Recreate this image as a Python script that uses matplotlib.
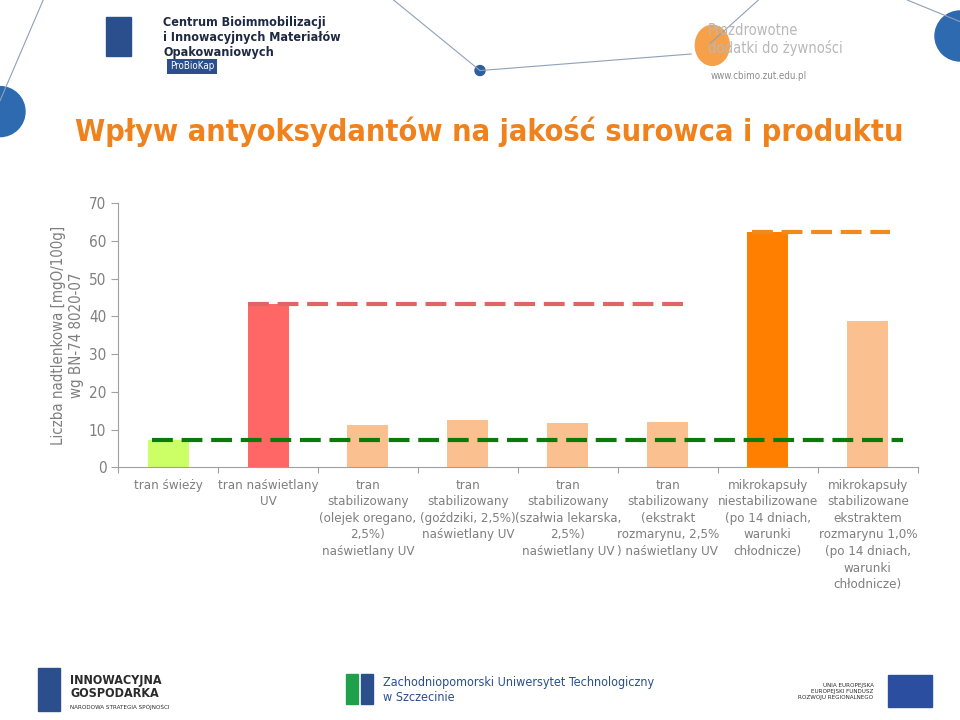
import matplotlib
matplotlib.use("Agg")
import matplotlib.pyplot as plt
from matplotlib.patches import Ellipse, Rectangle

plt.rcParams['font.family'] = ['DejaVu Sans']
plt.rcParams['font.stretch'] = 'condensed'

# data
categories = [
    "tran świeży",
    "tran naświetlany\nUV",
    "tran\nstabilizowany\n(olejek oregano,\n2,5%)\nnaświetlany UV",
    "tran\nstabilizowany\n(goździki, 2,5%)\nnaświetlany UV",
    "tran\nstabilizowany\n(szałwia lekarska,\n2,5%)\nnaświetlany UV",
    "tran\nstabilizowany\n(ekstrakt\nrozmarynu, 2,5%\n) naświetlany UV",
    "mikrokapsuły\nniestabilizowane\n(po 14 dniach,\nwarunki\nchłodnicze)",
    "mikrokapsuły\nstabilizowane\nekstraktem\nrozmarynu 1,0%\n(po 14 dniach,\nwarunki\nchłodnicze)",
]
values = [7.2, 43.2, 11.1, 12.5, 11.7, 11.9, 62.3, 38.7]
bar_colors = ["#CCFF66", "#FF6666", "#FAC090", "#FAC090", "#FAC090", "#FAC090",
              "#FF8000", "#FAC090"]

# reference levels: (value, x start, x end, colour)
ref_levels = [
    (7.2, -0.16, 7.35, "#0A7A0A"),
    (43.2, 0.8, 5.15, "#E06666"),
    (62.3, 5.84, 7.22, "#F08A1E"),
]

fig = plt.figure(figsize=(9.6, 7.2), dpi=100)
ax = fig.add_axes([0.123, 0.351, 0.833, 0.367])

x = list(range(len(categories)))
ax.bar(x, values, width=0.41, color=bar_colors, zorder=2)

for val, x0, x1, col in ref_levels:
    ax.plot([x0, x1], [val, val], color=col, lw=3, dashes=(5, 2.1), zorder=3)

ax.set_xlim(-0.5, len(categories) - 0.5)
ax.set_ylim(0, 70)
ax.set_yticks(range(0, 71, 10))
ax.tick_params(axis='y', colors='#A0A0A0', labelcolor='#7F7F7F', labelsize=11, length=5)
ax.set_xticks([i - 0.5 for i in range(len(categories) + 1)])
ax.set_xticklabels([])
ax.tick_params(axis='x', colors='#A0A0A0', length=4)
for i, lab in enumerate(categories):
    ax.text(i, -3.0, lab, ha='center', va='top', fontsize=9.5, color='#7F7F7F',
            linespacing=1.36)

for s in ['top', 'right']:
    ax.spines[s].set_visible(False)
for s in ['left', 'bottom']:
    ax.spines[s].set_color('#A0A0A0')

ax.set_ylabel("Liczba nadtlenkowa [mgO/100g]\nwg BN-74 8020-07", fontsize=10.8,
              color='#7F7F7F', linespacing=1.25)
ax.yaxis.set_label_coords(-0.043, 0.5)

# title
fig.text(0.51, 0.818, "Wpływ antyoksydantów na jakość surowca i produktu",
         ha='center', va='center', fontsize=22, fontweight='bold', color='#F0821E')

# decorative header lines and spheres
fig.add_artist(plt.Line2D([0.045, 0.0], [1.0, 0.86], color='#8FA0B8', lw=0.8))
fig.add_artist(plt.Line2D([0.41, 0.50], [1.0, 0.902], color='#8FA0B8', lw=0.8))
fig.add_artist(plt.Line2D([0.50, 0.72], [0.902, 0.925], color='#8FA0B8', lw=0.8))
fig.add_artist(plt.Line2D([0.79, 0.74], [1.0, 0.94], color='#8FA0B8', lw=0.8))
fig.add_artist(plt.Line2D([0.945, 1.0], [1.0, 0.97], color='#8FA0B8', lw=0.8))
fig.add_artist(Ellipse((0.50, 0.902), 10 / 960, 10 / 720, transform=fig.transFigure,
                       color='#2E5E9E'))
fig.add_artist(Ellipse((0.0, 0.845), 50 / 960, 50 / 720, transform=fig.transFigure,
                       color='#2E6AB0'))
fig.add_artist(Ellipse((1.0, 0.95), 50 / 960, 50 / 720, transform=fig.transFigure,
                       color='#2E6AB0'))
fig.add_artist(Ellipse((0.742, 0.937), 34 / 960, 40 / 720, transform=fig.transFigure,
                       color='#F6A04A'))

fig.text(0.737, 0.945, "Prozdrowotne\ndodatki do żywności", ha='left', va='center',
         fontsize=10.5, color='#B8B8B8', linespacing=1.1)
fig.text(0.740, 0.895, "www.cbimo.zut.edu.pl", ha='left', va='center',
         fontsize=7, color='#8C8C8C')

# header logo
fig.add_artist(Rectangle((0.11, 0.922), 0.026, 0.055, transform=fig.transFigure,
                         color='#2B4E8C'))
fig.text(0.17, 0.948, "Centrum Bioimmobilizacji\ni Innowacyjnych Materiałów\nOpakowaniowych",
         ha='left', va='center', fontsize=9, fontweight='bold', color='#1E2A44',
         linespacing=1.2)
fig.text(0.177, 0.908, "ProBioKap", ha='left', va='center', fontsize=7, color='white',
         bbox=dict(boxstyle='square,pad=0.25', fc='#2B4E8C', ec='none'))

# footer logos
fig.add_artist(Rectangle((0.04, 0.012), 0.023, 0.06, transform=fig.transFigure,
                         color='#2B4E8C'))
fig.text(0.073, 0.046, "INNOWACYJNA\nGOSPODARKA", ha='left', va='center', fontsize=9,
         fontweight='bold', color='#2B2B2B', linespacing=1.0)
fig.text(0.073, 0.018, "NARODOWA STRATEGIA SPÓJNOŚCI", ha='left', va='center',
         fontsize=4.5, color='#2B2B2B')
fig.add_artist(Rectangle((0.36, 0.022), 0.013, 0.042, transform=fig.transFigure,
                         color='#1FA04A'))
fig.add_artist(Rectangle((0.376, 0.022), 0.013, 0.042, transform=fig.transFigure,
                         color='#2B4E8C'))
fig.text(0.399, 0.042, "Zachodniopomorski Uniwersytet Technologiczny\nw Szczecinie",
         ha='left', va='center', fontsize=9, color='#2B4E8C', linespacing=1.2)
fig.text(0.91, 0.04, "UNIA EUROPEJSKA\nEUROPEJSKI FUNDUSZ\nROZWOJU REGIONALNEGO",
         ha='right', va='center', fontsize=4.5, color='#2B2B2B', linespacing=1.2)
fig.add_artist(Rectangle((0.925, 0.018), 0.046, 0.044, transform=fig.transFigure,
                         color='#2B4EA0'))

fig.savefig("out.png", dpi=100)
